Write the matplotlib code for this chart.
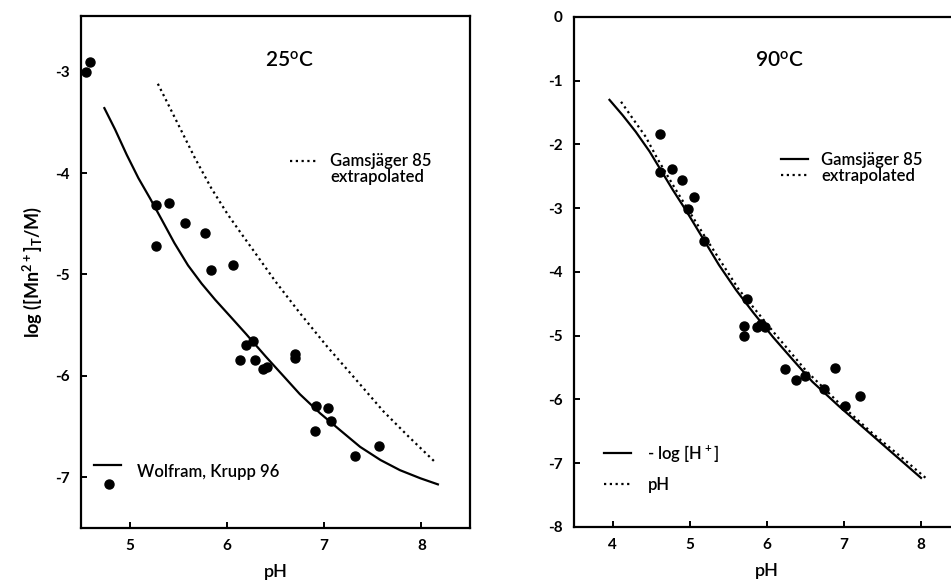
import matplotlib
matplotlib.use("Agg")
import matplotlib.pyplot as plt
from matplotlib.lines import Line2D
from matplotlib.legend_handler import HandlerBase

plt.rcParams['font.family'] = ['Lato', 'DejaVu Sans']
plt.rcParams['mathtext.default'] = 'regular'
plt.rcParams['axes.unicode_minus'] = False

# 25 C panel: measured solubilities
ph_25 = [4.55, 4.59, 5.27, 5.40, 5.57, 5.78, 5.27, 5.84, 6.06,
         6.20, 6.27, 6.13, 6.29, 6.37, 6.41, 6.70, 6.70,
         6.92, 7.04, 7.07, 6.91, 7.56, 7.32]
logmn_25 = [-3.00, -2.91, -4.32, -4.30, -4.49, -4.59, -4.72, -4.96, -4.91,
            -5.70, -5.66, -5.84, -5.84, -5.93, -5.91, -5.78, -5.82,
            -6.30, -6.32, -6.45, -6.54, -6.69, -6.79]

# Wolfram, Krupp 96 curve
wk_ph = [4.74, 4.85, 4.97, 5.09, 5.21, 5.33, 5.46, 5.60, 5.74, 5.88, 6.05, 6.20,
         6.40, 6.58, 6.75, 6.96, 7.17, 7.37, 7.58, 7.78, 7.99, 8.17]
wk_log = [-3.36, -3.57, -3.82, -4.05, -4.25, -4.46, -4.69, -4.91, -5.09, -5.25, -5.43, -5.59,
          -5.81, -6.00, -6.18, -6.37, -6.54, -6.70, -6.83, -6.93, -7.01, -7.07]

# Gamsjager 85 extrapolated, 25 C
g25_ph = [5.29, 5.40, 5.53, 5.67, 5.84, 6.01, 6.15, 6.27, 6.50, 6.75, 7.03, 7.33, 7.61, 7.87, 8.13]
g25_log = [-3.12, -3.33, -3.58, -3.85, -4.15, -4.41, -4.60, -4.76, -5.07, -5.38, -5.71, -6.04,
           -6.35, -6.60, -6.84]

# 90 C panel: measured solubilities
ph_90 = [4.61, 4.62, 4.77, 4.90, 5.06, 4.98, 5.19,
         5.74, 5.70, 5.71, 5.87, 5.93, 5.98,
         6.24, 6.38, 6.50, 6.74, 6.89, 7.01, 7.21]
logmn_90 = [-1.84, -2.43, -2.38, -2.55, -2.83, -3.01, -3.51,
            -4.43, -4.85, -5.00, -4.87, -4.82, -4.86,
            -5.52, -5.69, -5.63, -5.84, -5.50, -6.10, -5.94]

# Gamsjager 85 extrapolated, 90 C: vs -log[H+] and vs pH
g90h_ph = [3.96, 4.13, 4.30, 4.48, 4.61, 4.78, 4.95, 5.17, 5.38, 5.60, 5.82,
           6.08, 6.34, 6.59, 6.94, 7.29, 7.63, 8.00]
g90h_log = [-1.30, -1.54, -1.80, -2.11, -2.37, -2.71, -3.03, -3.47, -3.89, -4.28, -4.63,
            -5.02, -5.38, -5.72, -6.11, -6.48, -6.84, -7.23]
g90p_ph = [4.11, 4.26, 4.43, 4.58, 4.82, 5.21, 5.64, 6.12, 6.51, 6.94, 7.37, 7.76, 8.07]
g90p_log = [-1.33, -1.59, -1.88, -2.22, -2.71, -3.47, -4.28, -4.99, -5.55, -6.06, -6.53,
            -6.92, -7.24]


class LineOverDot(HandlerBase):
    def create_artists(self, legend, orig_handle, xdescent, ydescent,
                       width, height, fontsize, trans):
        ln = Line2D([-xdescent, -xdescent + width], [height * 1.05] * 2,
                    color='k', lw=1.6, transform=trans)
        dot = Line2D([-xdescent + width * 0.55], [-height * 0.55], marker='o',
                     ms=6.5, color='k', ls='', transform=trans)
        return [ln, dot]


def style_axes(ax, xt, yt):
    for sp in ax.spines.values():
        sp.set_linewidth(1.6)
    ax.set_xticks(xt, labels=[str(v) for v in xt], fontweight='bold')
    ax.set_yticks(yt, labels=[str(v) for v in yt], fontweight='bold')
    ax.tick_params(direction='in', length=4, width=1.4, labelsize=11, pad=8)


leg_font = {'size': 12, 'weight': 'semibold'}

fig = plt.figure(figsize=(9.51, 5.86), dpi=100)
ax1 = fig.add_axes([0.0852, 0.099, 0.409, 0.874])
ax2 = fig.add_axes([0.6036, 0.1007, 0.4054, 0.8703])

# left panel
ax1.plot(wk_ph, wk_log, color='k', lw=1.6)
ax1.plot(g25_ph, g25_log, color='k', lw=1.6, ls=(0, (1, 1.6)))
ax1.plot(ph_25, logmn_25, 'o', color='k', ms=6.5, clip_on=False)
ax1.set_xlim(4.5, 8.5)
ax1.set_ylim(-7.5, -2.45)
style_axes(ax1, [5, 6, 7, 8], [-3, -4, -5, -6, -7])
ax1.set_xlabel('pH', fontsize=13, fontweight='semibold', labelpad=8)
ax1.set_ylabel('log ([Mn$^{2+}$]$_T$/M)', fontsize=13, fontweight='bold', labelpad=8)
ax1.text(0.537, 0.912, '25$^{o}$C', transform=ax1.transAxes, ha='center', va='center',
         fontsize=15, fontweight='semibold')

h_dot = Line2D([], [], color='k', lw=1.6, ls=(0, (1, 1.6)))
h_none = Line2D([], [], color='none')
leg1 = ax1.legend([h_dot, h_none], ['Gamsjäger 85', 'extrapolated'], loc='center left',
                  bbox_to_anchor=(0.537, 0.70), frameon=False, prop=leg_font,
                  handlelength=1.6, handletextpad=0.8, labelspacing=0.0,
                  borderpad=0, borderaxespad=0)
ax1.add_artist(leg1)
h_wk = Line2D([], [], color='k')
ax1.legend([h_wk], ['Wolfram, Krupp 96'], handler_map={h_wk: LineOverDot()},
           loc='center left', bbox_to_anchor=(0.033, 0.109), frameon=False, prop=leg_font,
           handlelength=1.6, handletextpad=1.0, borderpad=0, borderaxespad=0)

# right panel
ax2.plot(g90h_ph, g90h_log, color='k', lw=1.6)
ax2.plot(g90p_ph, g90p_log, color='k', lw=1.6, ls=(0, (1, 1.6)))
ax2.plot(ph_90, logmn_90, 'o', color='k', ms=6.5)
ax2.set_xlim(3.5, 8.5)
ax2.set_ylim(-8, 0)
style_axes(ax2, [4, 5, 6, 7, 8], [0, -1, -2, -3, -4, -5, -6, -7, -8])
ax2.set_xlabel('pH', fontsize=13, fontweight='semibold', labelpad=8)
ax2.text(0.534, 0.914, '90$^{o}$C', transform=ax2.transAxes, ha='center', va='center',
         fontsize=15, fontweight='semibold')

h_sol = Line2D([], [], color='k', lw=1.6)
h_dot2 = Line2D([], [], color='k', lw=1.6, ls=(0, (1, 1.6)))
leg2 = ax2.legend([h_sol, h_dot2], ['Gamsjäger 85', 'extrapolated'], loc='center left',
                  bbox_to_anchor=(0.537, 0.704), frameon=False, prop=leg_font,
                  handlelength=1.6, handletextpad=0.8, labelspacing=0.0,
                  borderpad=0, borderaxespad=0)
ax2.add_artist(leg2)
ax2.legend([h_sol, h_dot2], ['- log [H$^+$]', 'pH'], loc='center left',
           bbox_to_anchor=(0.078, 0.116), frameon=False, prop=leg_font,
           handlelength=1.6, handletextpad=1.0, labelspacing=0.8,
           borderpad=0, borderaxespad=0)

fig.savefig('out.png', dpi=100)
